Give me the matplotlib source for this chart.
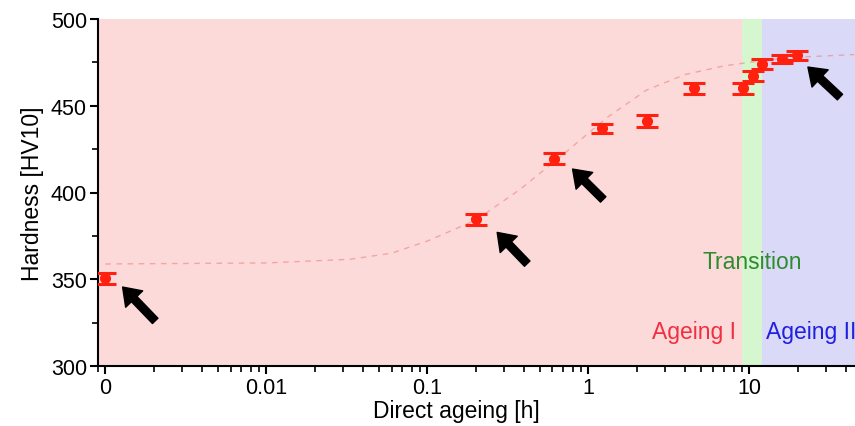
import matplotlib
matplotlib.use("Agg")
import matplotlib.pyplot as plt

plt.rcParams['font.family'] = ['Liberation Sans', 'DejaVu Sans']

# measured hardness (x = 0.001 stands for the "0" position on the log axis)
age_h = [0.001, 0.2, 0.61, 1.22, 2.32, 4.55, 9.1, 10.5, 12.0, 16.0, 19.8]
hv = [350.5, 384.5, 419.5, 437, 441, 460, 460, 467, 474, 477, 479]
hv_err = [3, 3, 3, 2.5, 3.5, 3, 3, 3, 3, 2.5, 2.5]

# fitted curve
fit_x = [0.001, 0.01, 0.033, 0.06, 0.1, 0.2, 0.38, 0.7, 1.3, 2.3, 4.0, 7.0, 12.0, 20.0, 45.0]
fit_y = [358.8, 359.4, 361.5, 365, 372, 384, 402, 422, 443, 459, 468, 473, 476, 478, 479.5]

# arrows (tip, tail) in data coords
arrows = [((0.00128, 345.5), (0.00204, 326)),
          ((0.272, 377), (0.418, 359)),
          ((0.80, 413.5), (1.24, 396)),
          ((23.2, 472.3), (36.7, 455))]

xmin, xmax = 0.0009, 45.5
trans_lo, trans_hi = 9.0, 12.0

fig = plt.figure(figsize=(8.55, 4.27), dpi=100)
ax = fig.add_axes([98 / 855, 60 / 427, 1 - 98 / 855, 347 / 427])

ax.axvspan(xmin, trans_lo, color='#fddada', lw=0, zorder=0)
ax.axvspan(trans_lo, trans_hi, color='#d6f6d0', lw=0, zorder=0)
ax.axvspan(trans_hi, xmax, color='#dadaf8', lw=0, zorder=0)

ax.plot(fit_x, fit_y, ls=(0, (4, 4)), color='#f08080', lw=1.0, alpha=0.6, zorder=1)
ax.errorbar(age_h, hv, yerr=hv_err, fmt='o', color='#ff2010', ms=7,
            capsize=8, capthick=2.2, elinewidth=2, zorder=3)

for tip, tail in arrows:
    ax.annotate('', xy=tip, xytext=tail,
                arrowprops=dict(facecolor='black', edgecolor='black',
                                width=5.5, headwidth=17, headlength=12))

ax.text(10.4, 360.5, 'Transition', color='#2e8b2e', fontsize=16.5,
        ha='center', va='center')
ax.text(8.3, 320, 'Ageing I', color='#f03040', fontsize=16.5,
        ha='right', va='center')
ax.text(12.7, 320, 'Ageing II', color='#2020e0', fontsize=16.5,
        ha='left', va='center')

ax.set_xscale('log')
ax.set_xlim(xmin, xmax)
ax.set_ylim(300, 500)
ax.set_xticks([0.001, 0.01, 0.1, 1, 10])
ax.set_xticklabels(['0', '0.01', '0.1', '1', '10'])
ax.set_yticks([300, 350, 400, 450, 500])
ax.set_yticks([325, 375, 425, 475], minor=True)

for s in ['top', 'right']:
    ax.spines[s].set_visible(False)
for s in ['left', 'bottom']:
    ax.spines[s].set_linewidth(1.5)

ax.tick_params(axis='both', which='major', length=6, width=1.5, labelsize=15.5, pad=2)
ax.tick_params(axis='both', which='minor', length=4, width=1.2)
ax.set_xlabel('Direct ageing [h]', fontsize=16.5)
ax.xaxis.set_label_coords(0.474, -0.095)
ax.set_ylabel('Hardness [HV10]', fontsize=16.5, labelpad=5)

fig.savefig('out.png', dpi=100)
